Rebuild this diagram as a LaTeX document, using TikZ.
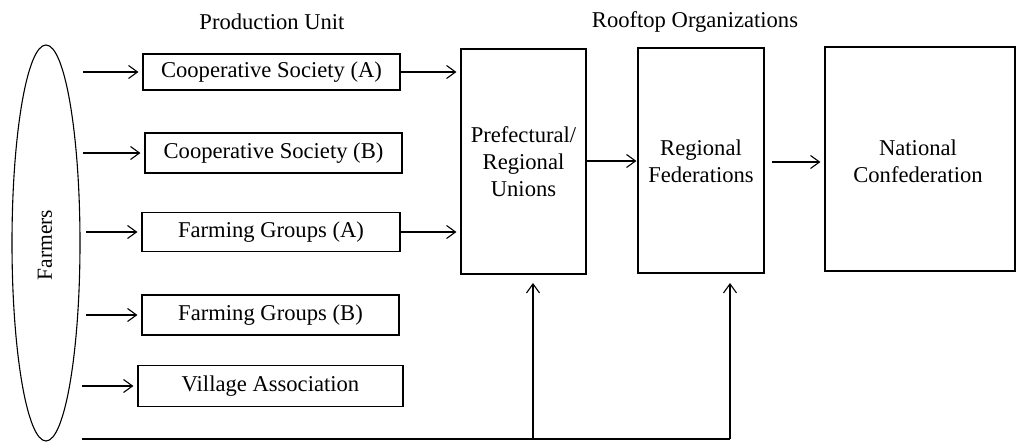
\documentclass[tikz,border=0pt]{standalone}
\usepackage{fontspec}
\setmainfont{Liberation Serif}
\usetikzlibrary{shapes.geometric,arrows.meta,calc}
\begin{document}
\begin{tikzpicture}[x=1pt,y=-1pt,
  font=\fontsize{22.6}{27}\selectfont,
  line width=1.1pt,
  unitbox/.style={draw, rectangle, inner sep=0pt, align=center},
  flow/.style={-{Straight Barb[length=9pt,width=13pt,line width=1.1pt]}, shorten >=4pt},
  heading/.style={font=\fontsize{22.6}{27}\selectfont}]
\useasboundingbox (0,0) rectangle (1017,443);

% headings
\node[heading] (hpu) at (272,22) {Production Unit};
\node[heading] (hro) at (695,22) {Rooftop Organizations};

% farmers
\node[draw, ellipse, minimum width=68pt, minimum height=396pt, inner sep=0pt] (farm) at (46,243) {};
\node[rotate=90, font=\fontsize{21.5}{26}\selectfont] (farmtxt) at (45,245) {Farmers};

% production units
\node[unitbox, minimum width=257pt, minimum height=36pt] (ca) at (271.5,72) {Cooperative Society (A)};
\node[unitbox, minimum width=257pt, minimum height=40pt] (cb) at (273.5,153) {Cooperative Society (B)};
\node[unitbox, minimum width=258pt, minimum height=39pt] (fa) at (271,232) {Farming Groups (A)};
\node[unitbox, minimum width=257pt, minimum height=40pt] (fb) at (270.5,315) {Farming Groups (B)};
\node[unitbox, minimum width=265pt, minimum height=41pt] (va) at (270.5,386) {Village Association};

% rooftop organizations
\node[unitbox, minimum width=125pt, minimum height=225pt] (pu) at (523.5,161.5) {};
\node[align=center] (putxt) at (523.5,162) {Prefectural/\\Regional\\Unions};
\node[unitbox, minimum width=126pt, minimum height=225pt] (rf) at (701,160.5) {};
\node[align=center] (rftxt) at (701,161) {Regional\\Federations};
\node[unitbox, minimum width=190pt, minimum height=224pt] (nc) at (920,159) {};
\node[align=center] (nctxt) at (918,161) {National\\Confederation};

% entry points from the farmers
\coordinate (f1) at (83,72);
\coordinate (f2) at (83,153);
\coordinate (f3) at (86,232);
\coordinate (f4) at (86,315);
\coordinate (f5) at (82,386);
\draw[flow] (f1) -- (ca.west);
\draw[flow] (f2) -- (cb.west);
\draw[flow] (f3) -- (fa.west);
\draw[flow] (f4) -- (fb.west);
\draw[flow] (f5) -- (va.west);

% into the prefectural unions
\draw[flow] (ca.east) -- (pu.west |- ca.east);
\draw[flow] (fa.east) -- (pu.west |- fa.east);

% up the chain
\draw[flow, shorten >=1pt] (pu.east |- 0,161) -- (rf.west |- 0,161);
\coordinate (rfout) at (772,162);
\draw[flow] (rfout) -- (nc.west |- rfout);

% direct line from the farmers
\coordinate (bl) at (82,439);
\coordinate (bm) at (533,439);
\coordinate (br) at (730,439);
\coordinate (tm) at (533,283);
\coordinate (tr) at (730,283);
\draw (bl) -- (br);
\draw[flow, shorten >=0pt] (bm) -- (tm);
\draw[flow, shorten >=0pt] (br) -- (tr);
\end{tikzpicture}
\end{document}
